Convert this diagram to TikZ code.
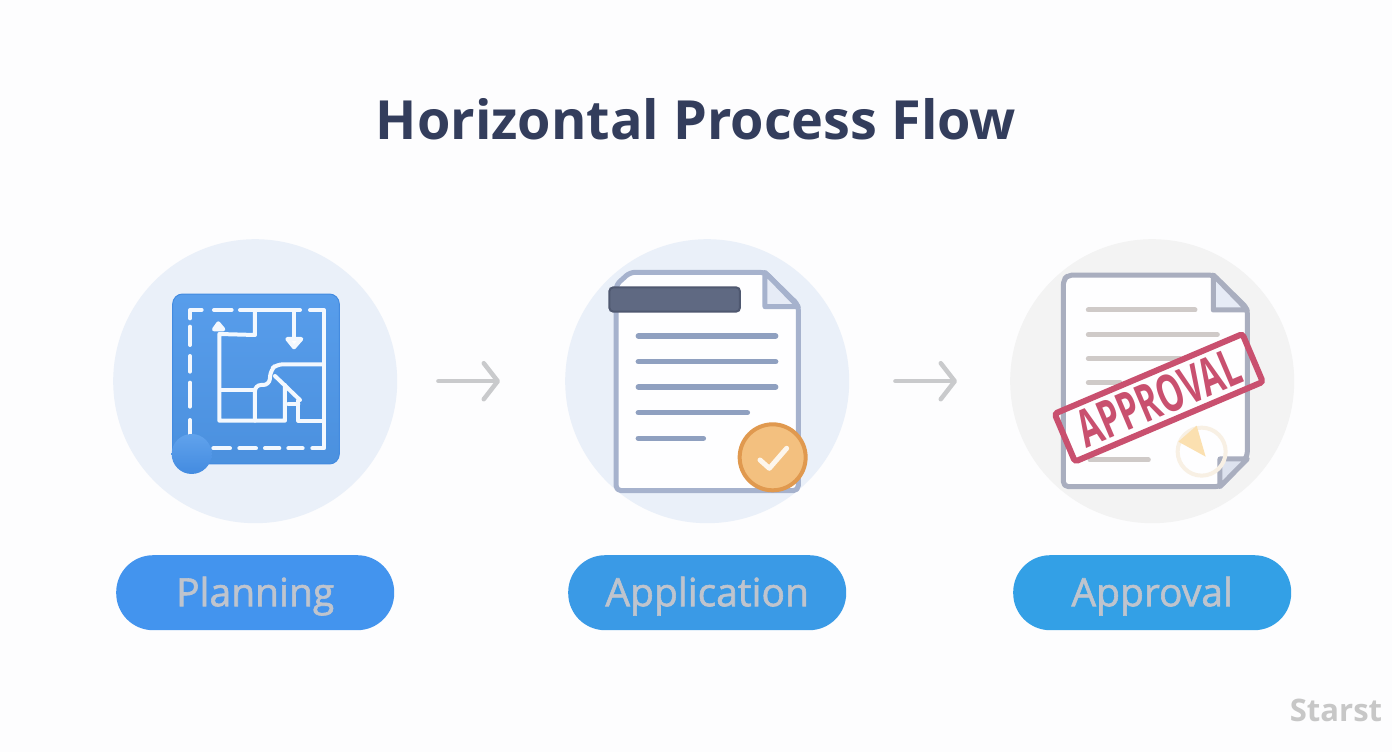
\documentclass[tikz,border=0pt]{standalone}
\usepackage{fontspec}
\setmainfont{Open Sans}
\newfontfamily\pillfont[FakeBold=1.5]{Open Sans}
\usetikzlibrary{arrows.meta,positioning,matrix}
\definecolor{titleink}{HTML}{333D5C}
\definecolor{pageback}{HTML}{FDFDFE}
\definecolor{discblue}{HTML}{EAF0F9}
\definecolor{discgrey}{HTML}{F3F3F3}
\definecolor{pillone}{HTML}{4394EE}
\definecolor{pilltwo}{HTML}{3A9AE6}
\definecolor{pillthree}{HTML}{33A0E6}
\definecolor{pillink}{HTML}{BFC4CD}
\definecolor{arrowink}{HTML}{C9CACC}
\definecolor{planblue}{HTML}{4F98EA}
\definecolor{planrim}{HTML}{438BE0}
\definecolor{docrim}{HTML}{A6B2CD}
\definecolor{docgrey}{HTML}{A9AEBF}
\definecolor{docfold}{HTML}{E6EBF6}
\definecolor{docline}{HTML}{8FA0C0}
\definecolor{greyline}{HTML}{CFCAC8}
\definecolor{barfill}{HTML}{5F6982}
\definecolor{barrim}{HTML}{4F5870}
\definecolor{badgefill}{HTML}{F3C07F}
\definecolor{badgerim}{HTML}{E0994F}
\definecolor{stampred}{HTML}{C9506F}
\definecolor{sealwedge}{HTML}{FBE0B0}
\definecolor{sealring}{HTML}{F8F0E4}
\begin{document}
\begin{tikzpicture}[x=1pt,y=-1pt,disc/.style={circle,inner sep=0pt,minimum size=284pt},pill/.style={rectangle,rounded corners=37pt,inner sep=0pt,minimum width=278pt,minimum height=75pt,text=pillink,font=\pillfont\fontsize{39}{39}\selectfont,text height=29pt,text depth=2pt},flow/.style={line width=4.5pt,draw=arrowink,line cap=round,-{Straight Barb[length=14pt,width=36pt,round]}},plan/.style={draw=white!93!planblue,line width=4pt,line join=round,line cap=round},rule/.style={line width=5.5pt,line cap=round,draw=docline},greyrule/.style={line width=5pt,line cap=round,draw=greyline},sheet/.style={line width=5pt,line join=round,fill=white!97!docfold}]
\useasboundingbox[fill=pageback] (0,0) rectangle (1392,752);
\node (title) at (696,119) {\fontsize{54}{54}\selectfont\bfseries\color{titleink}Horizontal Process Flow};
\matrix (steps) at (113,239) [matrix anchor=north west,inner sep=0pt,row sep=32pt,column sep=168pt] 
{
\node(planning)[disc,fill=discblue]{};  \pgfmatrixnextcell \node(application)[disc,fill=discblue]{};  \pgfmatrixnextcell[-7pt] \node(approval)[disc,fill=discgrey]{};\\
\node(planninglabel)[pill,fill=pillone]{Planning};  \pgfmatrixnextcell \node(applicationlabel)[pill,fill=pilltwo]{Application};  \pgfmatrixnextcell[-7pt] \node(approvallabel)[pill,fill=pillthree]{Approval};\\
};

\draw [flow,shorten <=41pt,shorten >=65pt] (planning) to (application);
\draw [flow,shorten <=46pt,shorten >=53pt] (application) to (approval);

\begin{scope}[shift={(150,270)},x=0.3333pt,y=-0.3333pt]
\draw [top color=planblue!95!white,bottom color=planblue!95!black,draw=planrim,line width=1pt,rounded corners=10pt] (68,72) rectangle (568,582);
\draw [plan] (120,145) -- (120,120) -- (155,120);
\draw [plan] (192,120) -- (245,120);
\draw [plan] (270,120) -- (450,120);
\draw [plan] (480,120) -- (522,120) -- (522,535) -- (487,535);
\draw [plan] (458,535) -- (415,535);
\draw [plan] (388,535) -- (345,535);
\draw [plan] (318,535) -- (268,535);
\draw [plan] (240,535) -- (190,535);
\draw [plan] (120,170) -- (120,225);
\draw [plan] (120,258) -- (120,305);
\draw [plan] (120,338) -- (120,410);
\draw [plan] (120,450) -- (120,495);
\draw [plan] (315,125) -- (315,195) -- (208,192) -- (208,452) -- (405,452) -- (405,345);
\draw [plan,fill=white] (192,178) -- (205,160) -- (220,178) -- cycle;
\draw [plan] (432,125) -- (432,210);
\draw [plan,fill=white] (412,207) -- (454,207) -- (432,232) -- cycle;
\draw [plan] (210,360) -- (315,360);
\draw [plan,rounded corners=6pt] (315,452) -- (315,345) -- (358,345) -- (362,300) -- (380,283) -- (520,283);
\draw [plan] (375,318) -- (450,390);
\draw [plan] (415,402) -- (445,402);
\draw [plan] (445,392) -- (445,452) -- (520,452);
\node (plandot) at (125,552) [circle,inner sep=0pt,minimum size=40pt,top color=planblue!90!white,bottom color=planrim] {};
\end{scope}

\begin{scope}[shift={(590,260)},x=0.3333pt,y=-0.3333pt]
\draw [sheet,draw=docrim,rounded corners=5pt] (78,75) -- (120,37) -- (525,37) -- (625,135) -- (625,692) -- (78,692) -- cycle;
\draw [draw=docrim,line width=5pt,line join=round,fill=docfold] (525,37) -- (525,140) -- (625,140) -- cycle;
\draw [fill=barfill,draw=barrim,line width=2pt,rounded corners=4pt] (58,82) rectangle (450,155);
\draw [rule] (145,228) -- (557,228);
\draw [rule] (145,305) -- (557,305);
\draw [rule] (145,381) -- (557,381);
\draw [rule] (145,458) -- (472,458);
\draw [rule] (145,535) -- (340,535);
\node (badge) at (548,592) [circle,inner sep=0pt,minimum size=66pt,fill=badgefill,draw=badgerim,line width=4pt] {};
\draw [line width=5pt,draw=white!85!badgefill,line cap=round,line join=round] (510,600) -- (538,625) -- (590,565);
\end{scope}

\begin{scope}[shift={(1040,260)},x=0.3333pt,y=-0.3333pt]
\draw [sheet,draw=docgrey,rounded corners=5pt] (70,60) -- (85,45) -- (520,45) -- (622,145) -- (622,590) -- (540,680) -- (70,680) -- cycle;
\draw [draw=docgrey,line width=5pt,line join=round,fill=docfold] (520,45) -- (520,150) -- (622,150) -- cycle;
\draw [draw=docgrey,line width=5pt,line join=round,fill=docfold!85!docgrey] (622,597) -- (540,597) -- (540,680) -- cycle;
\draw [greyrule] (145,150) -- (465,150);
\draw [greyrule] (145,224) -- (532,224);
\draw [greyrule] (145,296) -- (420,296);
\draw [greyrule] (145,368) -- (240,368);
\draw [greyrule] (150,600) -- (325,600);
\node (seal) at (485,575) [circle,inner sep=0pt,minimum size=48pt,draw=sealring,line width=4pt] {};
\fill [sealwedge] (497,590) -- (415,545) -- (470,497) -- cycle;
\end{scope}

\node (stamp) at (1158.7,397.8) [rectangle,rotate=23,draw=stampred,line width=6pt,rounded corners=3pt,minimum width=204pt,minimum height=52pt,inner sep=0pt,text=stampred,font=\fontsize{52}{52}\selectfont\bfseries] {\scalebox{.63}[1]{APPROVAL}};

\node (brand) at (1336,710) {\fontsize{31}{31}\selectfont\bfseries\color{black!22}Starst};
\end{tikzpicture}
\end{document}
